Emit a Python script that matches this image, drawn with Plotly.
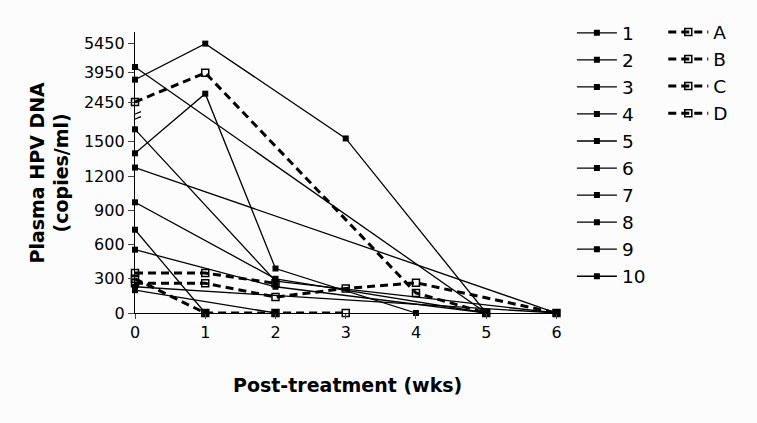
import plotly.graph_objects as go

weeks = [0, 1, 2, 3, 4, 5, 6]

# Patients 1-10 (solid lines, filled squares); None = no measurement
p1 = [4250, None, None, None, None, 0, None]
p2 = [3600, 5450, None, 1530, None, 0, None]
p3 = [1400, 2880, 390, None, 0, None, None]
p4 = [1610, None, 280, None, None, None, 0]
p5 = [1275, None, None, None, None, None, 0]
p6 = [970, None, 300, None, None, 0, None]
p7 = [730, 0, None, None, None, None, None]
p8 = [555, None, 230, None, None, 0, None]
p9 = [230, None, None, None, None, None, 0]
p10 = [200, None, 0, None, None, None, None]

# Patients A-D (dashed lines, open squares)
pA = [2450, 3950, None, None, 175, 0, None]
pB = [350, 350, 260, None, None, None, None]
pC = [300, 0, 0, 0, None, None, None]
pD = [260, 260, 140, 215, 265, None, 0]

solid_names = ["1", "2", "3", "4", "5", "6", "7", "8", "9", "10"]
solid_series = [p1, p2, p3, p4, p5, p6, p7, p8, p9, p10]
dashed_names = ["A", "B", "C", "D"]
dashed_series = [pA, pB, pC, pD]

ytick_labels = [0, 300, 600, 900, 1200, 1500, 2450, 3950, 5450]

# broken y axis: lower segment linear, upper segment compressed
BREAK_LOW = 1800
UPPER_BASE = 2450
UPPER_BASE_POS = 1849
UPPER_SCALE = 0.1707
BREAK_POS = 1730


def disp(v):
    if v is None:
        return None
    if v <= BREAK_LOW:
        return v
    return UPPER_BASE_POS + (v - UPPER_BASE) * UPPER_SCALE


FONT = "DejaVu Sans"
fig = go.Figure()

for name, vals in zip(solid_names, solid_series):
    fig.add_trace(go.Scatter(
        x=weeks, y=[disp(v) for v in vals], name=name, mode="lines+markers",
        connectgaps=True, cliponaxis=False,
        line=dict(color="black", width=1.3),
        marker=dict(symbol="square", size=6, color="black"),
        legend="legend",
    ))

for name, vals in zip(dashed_names, dashed_series):
    fig.add_trace(go.Scatter(
        x=weeks, y=[disp(v) for v in vals], name=name, mode="lines+markers",
        connectgaps=True, cliponaxis=False,
        line=dict(color="black", width=3, dash="8px,5px"),
        marker=dict(symbol="square-open", size=7, color="black",
                    line=dict(width=1.5, color="black")),
        legend="legend2",
    ))

# break marks on the y axis
for off in (-3, 2):
    fig.add_shape(type="line", xref="x", yref="y", xsizemode="pixel", ysizemode="pixel",
                  xanchor=0, yanchor=BREAK_POS, x0=-6, x1=6, y0=off - 3, y1=off + 2,
                  line=dict(color="black", width=1.3))

fig.add_annotation(text="<b>Plasma HPV DNA<br>(copies/ml)</b>", textangle=-90,
                   xref="paper", yref="paper", x=0, y=0.5, xanchor="center", yanchor="middle",
                   xshift=-86, showarrow=False, font=dict(family=FONT, size=19, color="black"))
fig.add_annotation(text="<b>Post-treatment (wks)</b>",
                   xref="paper", yref="paper", x=0.5, y=0, xanchor="center", yanchor="middle",
                   yshift=-72, showarrow=False, font=dict(family=FONT, size=19, color="black"))

fig.update_layout(
    width=757, height=423,
    margin=dict(l=135, r=197, t=32, b=110),
    paper_bgcolor="#fcfcfc", plot_bgcolor="#fcfcfc",
    font=dict(family=FONT, size=16, color="black"),
    xaxis=dict(range=[0, 6.05], tickvals=weeks, ticks="outside", ticklen=5, tickwidth=1.3,
               showline=True, linecolor="black", linewidth=1.3, showgrid=False, zeroline=False,
               tickfont=dict(family=FONT, size=16)),
    yaxis=dict(range=[0, 2463], tickvals=[disp(v) for v in ytick_labels],
               ticktext=[str(v) for v in ytick_labels], ticks="outside", ticklen=6, tickwidth=1.3,
               showline=True, linecolor="black", linewidth=1.3, showgrid=False, zeroline=False,
               tickfont=dict(family=FONT, size=16)),
    legend=dict(x=1.028, y=1.063, xanchor="left", yanchor="top", bgcolor="rgba(0,0,0,0)",
                font=dict(family=FONT, size=18.5), itemwidth=40, tracegroupgap=0, maxheight=400),
    legend2=dict(x=1.243, y=1.066, xanchor="left", yanchor="top", bgcolor="rgba(0,0,0,0)",
                 font=dict(family=FONT, size=18.5), itemwidth=40, tracegroupgap=0, maxheight=400),
    showlegend=True,
)

fig.write_html("out.html", config={"displayModeBar": False})
with open("out.html", "r", encoding="utf-8") as f:
    html = f.read()
html = html.replace("<head>", "<head><style>html,body{margin:0;padding:0;overflow:hidden;}</style>", 1)
with open("out.html", "w", encoding="utf-8") as f:
    f.write(html)
